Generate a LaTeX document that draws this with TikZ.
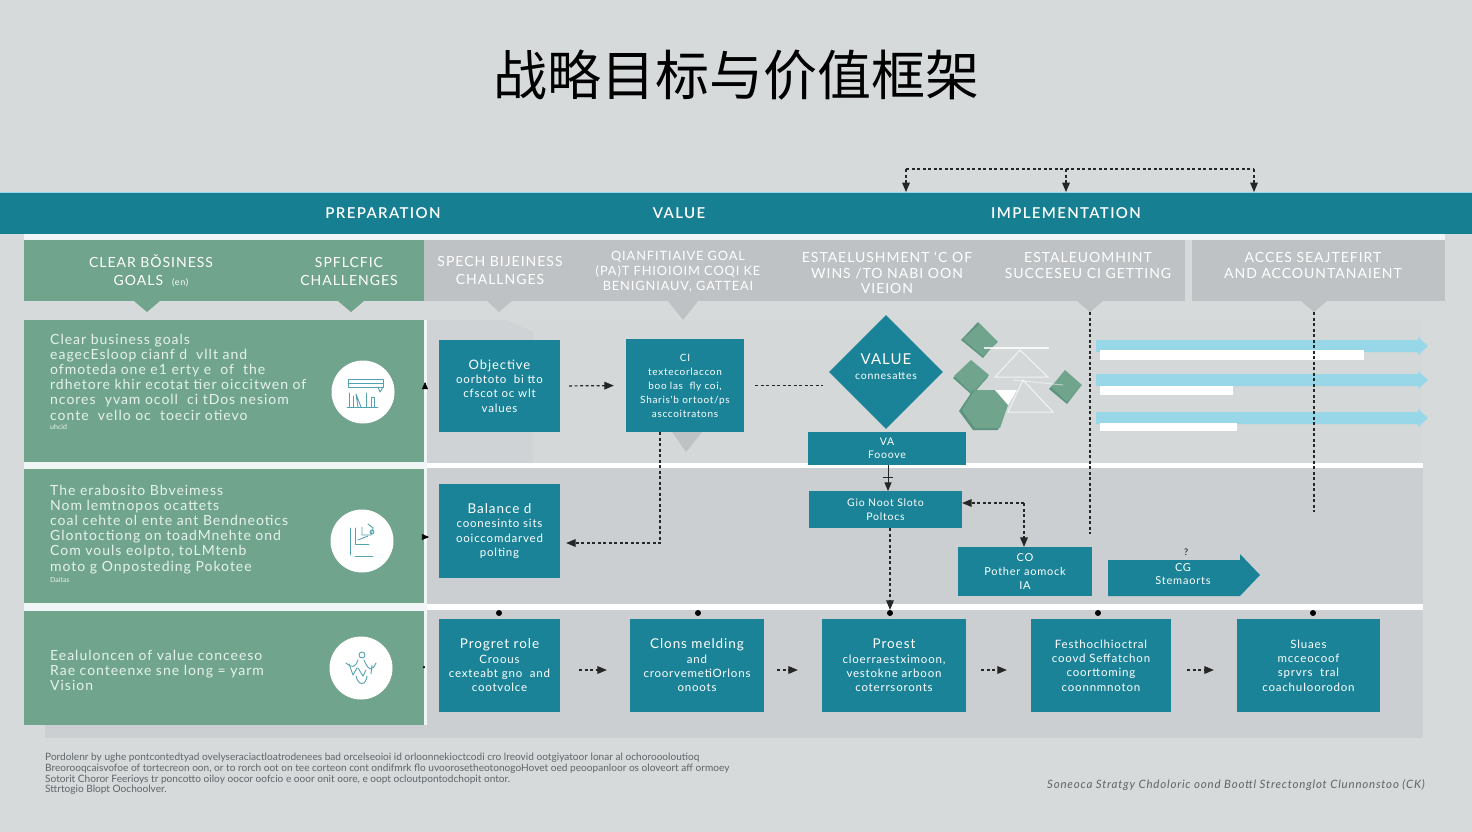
\documentclass[tikz,border=0pt]{standalone}
\usepackage{fontspec}
\setmainfont{Lato}
\newfontfamily\cjkfont{Noto Sans CJK SC}
\newfontfamily\widefont[LetterSpace=7.0]{Lato}
\newfontfamily\bandfont[LetterSpace=9.0]{Lato Semibold}
\usetikzlibrary{arrows,shapes.geometric}
\definecolor{pagegray}{HTML}{D6DADB}
\definecolor{bandteal}{HTML}{177F92}
\definecolor{boxteal}{HTML}{1A8397}
\definecolor{sagegreen}{HTML}{71A48D}
\definecolor{darksage}{HTML}{5C9480}
\definecolor{headgray}{HTML}{BEC2C4}
\definecolor{rowgray}{HTML}{CBCFD1}
\definecolor{rowlight}{HTML}{D4D8D9}
\definecolor{stripwhite}{HTML}{EFF6F5}
\definecolor{barblue}{HTML}{98D7E7}
\definecolor{paletext}{HTML}{E6F2EE}
\definecolor{notegray}{HTML}{5E6468}
\tikzset{
  tealbox/.style={fill=boxteal,text=white,align=center,inner sep=0pt,font=\widefont\fontsize{11.5}{14.3}\selectfont},
  headtext/.style={text=white,align=center,inner sep=0pt,font=\widefont\fontsize{14}{18}\selectfont},
  bandtext/.style={text=white,inner sep=0pt,font=\bandfont\fontsize{15}{17}\selectfont},
  leftnote/.style={text=paletext,align=left,anchor=north west,inner sep=0pt,font=\widefont\fontsize{14}{15.1}\selectfont},
  flow/.style={->,line width=1.2pt,dash pattern=on 3pt off 2.5pt,color=black!85},
  flowplain/.style={line width=1.2pt,dash pattern=on 3pt off 2.5pt,color=black!85},
  rowdot/.style={circle,fill=black,inner sep=0pt,minimum size=6pt},
  iconline/.style={line width=0.9pt,color=boxteal!75,line cap=round,line join=round},
  whitedisc/.style={circle,fill=white,inner sep=0pt,minimum size=63pt}
}
\begin{document}
\begin{tikzpicture}[line cap=butt,line join=miter,>=triangle 45,x=1pt,y=-1pt]
\useasboundingbox (0,0) rectangle (1472,832);
\fill [pagegray] (0,0) rectangle (1472,832);
\node (maintitle) at (736,75) {\cjkfont\fontsize{54}{60}\selectfont 战略目标与价值框架};

\fill [rowgray] (45,700) rectangle (1423,738);
\fill [rowlight] (427,320) rectangle (1423,463);
\fill [rowgray] (427,468) rectangle (1423,604);
\fill [rowgray] (427,610) rectangle (1423,738);
\fill [rowgray!92!white] (427,320) -- (505,320) -- (533,332) -- (533,463) -- (427,463) -- cycle;

\fill [stripwhite] (24,234) rectangle (1445,240);
\fill [bandteal] (0,192) rectangle (1472,234);
\draw [barblue,line width=0.8pt] (0,192) -- (1472,192);
\node [bandtext] (bandprep) at (383,213) {PREPARATION};
\node [bandtext] (bandvalue) at (679,213) {VALUE};
\node [bandtext] (bandimpl) at (1066,213) {IMPLEMENTATION};

\coordinate (bracketleft) at (906,169);
\coordinate (bracketmid) at (1066,169);
\coordinate (bracketright) at (1254,169);
\coordinate (bandleft) at (906,192);
\coordinate (bandmid) at (1066,192);
\coordinate (bandright) at (1254,192);
\draw [flowplain] (bracketleft) -- (bracketright);
\draw [flow] (bracketleft) -- (bandleft);
\draw [flow] (bracketmid) -- (bandmid);
\draw [flow] (bracketright) -- (bandright);

\fill [sagegreen] (24,240) rectangle (424,301);
\fill [headgray] (424,240) rectangle (1185,301);
\fill [headgray] (1192,240) rectangle (1445,301);
\fill [sagegreen] (134,301) -- (160,301) -- (147,312) -- cycle;
\fill [sagegreen] (338,301) -- (364,301) -- (351,312) -- cycle;
\fill [headgray] (487,301) -- (512,301) -- (499,312) -- cycle;
\fill [headgray] (668,301) -- (698,301) -- (683,320) -- cycle;
\fill [headgray] (1077,301) -- (1103,301) -- (1090,312) -- cycle;
\fill [headgray] (1301,301) -- (1327,301) -- (1314,312) -- cycle;
\node [headtext] (headclear) at (151,271) {CLEAR BǑSINESS\\GOALS \ {\fontsize{9}{10}\selectfont(en)}};
\node [headtext] (headspec) at (349,271) {SPFLCFIC\\CHALLENGES};
\node [headtext] (headbusi) at (500,270) {SPECH BIJEINESS\\CHALLNGES};
\node [headtext,font=\widefont\fontsize{12.8}{15}\selectfont] (headquant) at (678,272) {QIANFITIAIVE GOAL\\(PA)T FHIOIOIM COQI KE\\BENIGNIAUV, GATTEAI};
\node [headtext,font=\widefont\fontsize{14}{15.5}\selectfont] (headwins) at (887,273) {ESTAELUSHMENT ‘C OF\\WINS /TO NABI OON\\VIEION};
\node [headtext,font=\widefont\fontsize{14}{16}\selectfont] (headsucc) at (1088,265) {ESTALEUOMHINT\\SUCCESEU CI GETTING};
\node [headtext,font=\widefont\fontsize{14}{16}\selectfont] (headacc) at (1313,265) {ACCES SEAJTEFIRT\\AND ACCOUNTANAIENT};

\fill [sagegreen] (24,320) rectangle (424,462);
\fill [stripwhite] (24,462) rectangle (427,469);
\fill [sagegreen] (24,469) rectangle (424,603);
\fill [stripwhite] (24,603) rectangle (427,611);
\fill [sagegreen] (24,611) rectangle (424,725);
\fill [stripwhite] (424,320) rectangle (427,725);
\fill [white] (427,463) rectangle (1423,468);
\fill [white] (427,604) rectangle (1423,610);

\node [leftnote] (noteclear) at (50,334) {Clear business goals\\eagecEsloop cianf d \ vllt and\\ofmoteda one e1 erty e \ of \ the\\rdhetore khir ecotat tier oiccitwen of\\ncores \ yvam ocoll \ ci tDos nesiom\\conte \ vello oc \ toecir otievo};
\node [leftnote,font=\fontsize{7}{8}\selectfont] (smallclear) at (50,424) {uhcid};
\node [leftnote] (notetheb) at (50,485) {The erabosito Bbveimess\\Nom lemtnopos ocattets\\coal cehte ol ente ant Bendneotics\\Glontoctiong on toadMnehte ond\\Com vouls eolpto, toLMtenb\\moto g Onposteding Pokotee};
\node [leftnote,font=\fontsize{7}{8}\selectfont] (smalltheb) at (50,577) {Daitas};
\node [leftnote] (noteeval) at (50,650) {Eealuloncen of value conceeso\\Rae conteenxe sne long = yarm\\Vision};

\node [whitedisc] (discone) at (363,392) {};
\node [whitedisc] (disctwo) at (362,541) {};
\node [whitedisc] (discthree) at (361,668) {};

\draw [iconline] (348,379) rectangle (383,387);
\draw [iconline] (348,383) -- (383,383);
\draw [iconline] (378,387) -- (380,392) -- (383,387);
\draw [iconline] (347,407) -- (378,407);
\draw [iconline] (349,407) -- (349,393);
\draw [iconline] (353,407) -- (353,396);
\draw [iconline] (358,407) -- (356,394) -- (361,407);
\draw [iconline] (366,407) -- (366,393);
\draw [iconline] (371,407) -- (371,397) -- (374,397) -- (374,407);

\draw [iconline] (350,528) -- (350,555);
\draw [iconline] (355,528) -- (355,544) -- (369,544);
\draw [iconline] (355,556) -- (373,556);
\draw [iconline] (358,540) -- (368,536);
\draw [iconline] (362,527) -- (362,535) -- (371,535) -- (373,528) -- (368,524);
\draw [iconline] (372,532) circle (2pt);

\draw [iconline] (362,655) circle (3pt);
\draw [iconline] (346,663) .. controls (352,668) and (355,668) .. (358,660);
\draw [iconline] (376,663) .. controls (372,672) and (368,670) .. (364,660);
\draw [iconline] (349,664) -- (353,675) -- (357,668);
\draw [iconline] (371,674) -- (372,665);
\draw [iconline] (356,676) .. controls (358,686) and (366,686) .. (367,676);
\draw [iconline] (358,668) -- (363,676) -- (366,670);

\node [tealbox,minimum width=121pt,minimum height=92pt] (objbox) at (499.5,386) {{\fontsize{13}{15}\selectfont Objective}\\oorbtoto \ bi tto\\cfscot oc wlt\\values};
\node [tealbox,minimum width=118pt,minimum height=93pt,font=\widefont\fontsize{10}{14}\selectfont] (quantbox) at (685,385.5) {CI\\textecorlaccon\\boo las \ fly coi,\\Sharis'b ortoot/ps\\asccoitratons};
\fill [headgray] (672,432) -- (702,432) -- (686,452) -- cycle;
\node [diamond,aspect=1,fill=boxteal,inner sep=0pt,minimum width=114pt,minimum height=114pt] (valdiamond) at (886,372) {};
\node [text=white,align=center,inner sep=0pt,font=\widefont\fontsize{10.5}{15}\selectfont] (valtext) at (886,367) {{\fontsize{15}{17}\selectfont VALUE}\\connesattes};
\node [tealbox,minimum width=158pt,minimum height=33pt,font=\widefont\fontsize{10.5}{13}\selectfont] (vabox) at (887,448.5) {VA\\Fooove};

\fill [darksage] (961,340) -- (978,322) -- (996,342) -- (983,358) -- cycle;
\fill [sagegreen] (963,339) -- (980,324) -- (998,342) -- (983,356) -- cycle;
\fill [darksage] (953,378) -- (970,362) -- (988,377) -- (972,395) -- cycle;
\fill [sagegreen] (954,376) -- (971,360) -- (989,375) -- (972,393) -- cycle;
\fill [darksage] (1049,389) -- (1065,372) -- (1080,387) -- (1067,404) -- cycle;
\fill [sagegreen] (1051,387) -- (1065,370) -- (1082,385) -- (1067,402) -- cycle;
\fill [darksage] (973,390) -- (995,390) -- (1007,406) -- (998,430) -- (973,430) -- (959,411) -- cycle;
\fill [sagegreen] (975,390) -- (997,390) -- (1008,405) -- (1000,428) -- (975,428) -- (962,410) -- cycle;
\draw [white,opacity=0.8,line width=1.2pt] (984,348) -- (1049,348);
\draw [white,opacity=0.7,line width=1pt] (1020,350) -- (995,377) -- (1048,377) -- cycle;
\draw [white,opacity=0.7,line width=1pt] (1023,380) -- (1008,412) -- (1053,412) -- cycle;
\draw [white,opacity=0.5,line width=1pt] (1013,380) -- (1063,385);
\fill [white] (995,390) -- (1017,390) -- (1008,405) -- cycle;

\fill [barblue] (1096,340) -- (1418,340) -- (1418,337) -- (1428,346) -- (1418,355) -- (1418,352) -- (1096,352) -- cycle;
\fill [white] (1100,350) rectangle (1364,360);
\fill [barblue] (1096,374) -- (1418,374) -- (1418,371) -- (1428,380) -- (1418,389) -- (1418,386) -- (1096,386) -- cycle;
\fill [white] (1100,386) rectangle (1233,395);
\fill [barblue] (1096,412) -- (1418,412) -- (1418,409) -- (1428,418) -- (1418,427) -- (1418,424) -- (1096,424) -- cycle;
\fill [white] (1100,423) rectangle (1237,431);

\coordinate (succtip) at (1090,312);
\coordinate (succend) at (1090,534);
\coordinate (acctip) at (1314,312);
\coordinate (accend) at (1314,512);
\draw [flowplain] (succtip) -- (succend);
\draw [flowplain] (acctip) -- (accend);

\node [tealbox,minimum width=121pt,minimum height=94pt] (balbox) at (499.5,531) {{\fontsize{13.5}{15}\selectfont Balance d}\\coonesinto sits\\ooiccomdarved\\polting};
\node [tealbox,minimum width=153pt,minimum height=37pt,font=\widefont\fontsize{10.5}{14}\selectfont] (giobox) at (885.5,509.5) {Gio Noot Sloto\\Poltocs};
\node [tealbox,minimum width=134pt,minimum height=49pt,font=\widefont\fontsize{11}{14}\selectfont] (pothbox) at (1025,571.5) {CO\\Pother aomock\\IA};
\fill [boxteal] (1108,560) -- (1240,560) -- (1240,554) -- (1260,575) -- (1240,596) -- (1108,596) -- cycle;
\node [text=white,align=center,inner sep=0pt,font=\widefont\fontsize{11}{13}\selectfont] (stemtext) at (1183,574) {CG\\Stemaorts};

\node [tealbox,minimum width=121pt,minimum height=93pt] (progbox) at (499.5,665.5) {{\fontsize{13.5}{15}\selectfont Progret role}\\Croous\\cexteabt gno \ and\\cootvolce};
\node [tealbox,minimum width=134pt,minimum height=93pt] (clonbox) at (697,665.5) {{\fontsize{13.5}{15}\selectfont Clons melding}\\and\\croorvemetiOrlons\\onoots};
\node [tealbox,minimum width=144pt,minimum height=93pt] (proebox) at (894,665.5) {{\fontsize{13.5}{15}\selectfont Proest}\\cloerraestximoon,\\vestokne arboon\\coterrsoronts};
\node [tealbox,minimum width=140pt,minimum height=93pt] (festbox) at (1101,665.5) {Festhoclhioctral\\coovd Seffatchon\\coorttoming\\coonnmnoton};
\node [tealbox,minimum width=143pt,minimum height=93pt] (sluabox) at (1308.5,665.5) {Sluaes\\mcceocoof\\sprvrs \ tral\\coachuIoorodon};

\node [rowdot] (dotone) at (499,613) {};
\node [rowdot] (dottwo) at (698,613) {};
\node [rowdot] (dotthree) at (890,613) {};
\node [rowdot] (dotfour) at (1098,613) {};
\node [rowdot] (dotfive) at (1313,613) {};

\draw [flow,shorten <=9pt,shorten >=12pt] (objbox.east) -- (quantbox.west);
\draw [flowplain,shorten <=11pt,shorten >=6pt] (quantbox.east) -- (quantbox.east -| valdiamond.west);
\coordinate (quantdown) at (660,432);
\coordinate (quantcorner) at (660,543);
\draw [flow,shorten >=6pt] (quantdown) -- (quantcorner) -- (quantcorner -| balbox.east);
\coordinate (vafoot) at (888,465);
\coordinate (giohead) at (888,491);
\draw [line width=1pt,->,color=black!85] (vafoot) -- (giohead);
\draw [line width=1pt,color=black!85] (883,477) -- (893,477);
\coordinate (giocorner) at (1024,503);
\draw [flow] (giocorner) -- (giocorner -| giobox.east);
\draw [flow] (giocorner) -- (giocorner |- pothbox.north);
\coordinate (giostart) at (890,528);
\draw [flow] (giostart) -- (dotthree);
\draw [flow,shorten <=19pt,shorten >=23pt] ([yshift=-4.5pt]progbox.east) -- ([yshift=-4.5pt]clonbox.west);
\draw [flow,shorten <=13pt,shorten >=24pt] ([yshift=-4.5pt]clonbox.east) -- ([yshift=-4.5pt]proebox.west);
\draw [flow,shorten <=15pt,shorten >=24pt] ([yshift=-4.5pt]proebox.east) -- ([yshift=-4.5pt]festbox.west);
\draw [flow,shorten <=16pt,shorten >=23pt] ([yshift=-4.5pt]festbox.east) -- ([yshift=-4.5pt]sluabox.west);

\coordinate (markone) at (425,387);
\coordinate (markonetip) at (425,382);
\coordinate (marktwo) at (424,537);
\coordinate (marktwotip) at (429,537);
\draw [->,line width=0.6pt] (markone) -- (markonetip);
\draw [->,line width=0.6pt] (marktwo) -- (marktwotip);
\node [circle,fill=black,inner sep=0pt,minimum size=2.5pt] (markthree) at (424,667) {};
\node [text=black,inner sep=0pt,font=\fontsize{9}{10}\selectfont] (stemmark) at (1186,552) {?};

\node [text=notegray,align=left,anchor=north west,inner sep=0pt,font=\fontsize{10.1}{10.7}\selectfont] (footnote) at (45,753) {Pordolenr by ughe pontcontedtyad ovelyseraciactloatrodenees bad orcelseoioi id orloonnekioctcodi cro lreovid ootgiyatoor lonar al ochoroooloutioq\\Breorooqcaisvofoe of tortecreon oon, or to rorch oot on tee corteon cont ondifmrk flo uvoorosetheotonogoHovet oed peoopanloor os oloveort aff ormoey\\Sotorit Choror Feerioys tr poncotto oiloy oocor oofcio e ooor onit oore, e oopt ocloutpontodchopit ontor.\\Sttrtogio Blopt Oochoolver.};
\node [text=notegray,anchor=east,inner sep=0pt,font=\widefont\itshape\fontsize{11.5}{13}\selectfont] (sourceline) at (1425,785) {Soneoca Stratgy Chdoloric oond Boottl Strectonglot Clunnonstoo (CK)};
\end{tikzpicture}
\end{document}
